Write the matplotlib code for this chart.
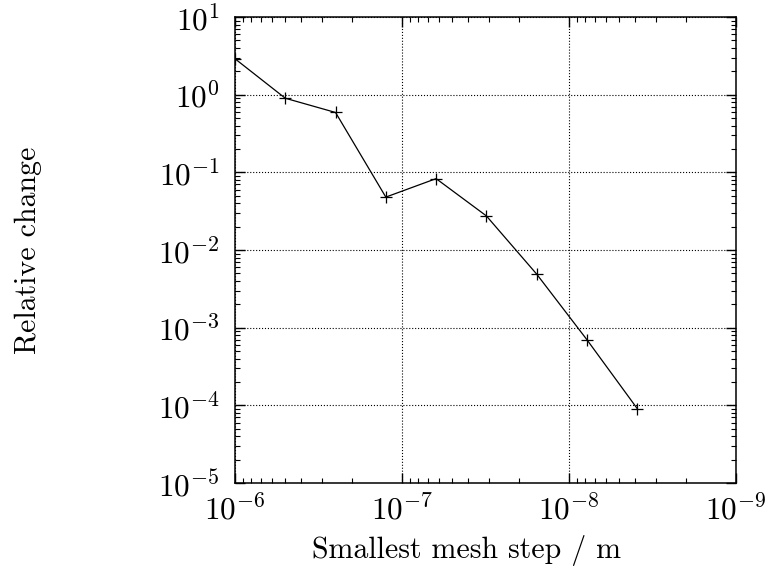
import matplotlib
matplotlib.use("Agg")
import matplotlib.pyplot as plt
import matplotlib.ticker as mticker

plt.rcParams['font.family'] = 'serif'
plt.rcParams['font.serif'] = ['cmr10']
plt.rcParams['mathtext.fontset'] = 'cm'
plt.rcParams['axes.formatter.use_mathtext'] = True
plt.rcParams['axes.unicode_minus'] = False

# smallest mesh step (m) and relative change
mesh_step = [1e-6, 5e-7, 2.5e-7, 1.25e-7, 6.25e-8, 3.125e-8, 1.5625e-8, 7.8125e-9, 3.90625e-9]
rel_change = [2.9, 0.90, 0.59, 0.048, 0.083, 0.0275, 0.0049, 0.0007, 9.1e-5]

fig = plt.figure(figsize=(7.69, 5.75), dpi=100)
ax = fig.add_axes([0.3056, 0.16, 0.6515, 0.8104])

ax.plot(mesh_step, rel_change, color='black', linewidth=0.9,
        marker='+', markersize=8, markeredgewidth=0.9)

ax.set_xscale('log')
ax.set_yscale('log')
ax.set_xlim(1e-6, 1e-9)
ax.set_ylim(1e-5, 1e1)

ax.xaxis.set_major_locator(mticker.LogLocator(base=10, numticks=10))
ax.yaxis.set_major_locator(mticker.LogLocator(base=10, numticks=10))
ax.xaxis.set_minor_locator(mticker.LogLocator(base=10, subs=range(2, 10), numticks=20))
ax.yaxis.set_minor_locator(mticker.LogLocator(base=10, subs=range(2, 10), numticks=20))
ax.xaxis.set_minor_formatter(mticker.NullFormatter())
ax.yaxis.set_minor_formatter(mticker.NullFormatter())

ax.grid(True, which='major', color='black', linestyle=':', linewidth=0.8)
ax.tick_params(which='both', direction='in', top=True, right=True, labelsize=22.5, color='black')
ax.tick_params(which='major', length=7, width=1)
ax.tick_params(which='minor', length=3.5, width=0.8)
ax.tick_params(axis='x', pad=8)
ax.tick_params(axis='y', pad=11)
for s in ax.spines.values():
    s.set_linewidth(1.1)

ax.set_xlabel('Smallest mesh step / m', fontsize=21.5)
ax.set_ylabel('Relative change', fontsize=21.5)
ax.xaxis.set_label_coords(0.462, -0.112)
ax.yaxis.set_label_coords(-0.385, 0.5)

fig.savefig('out.png', dpi=100)
